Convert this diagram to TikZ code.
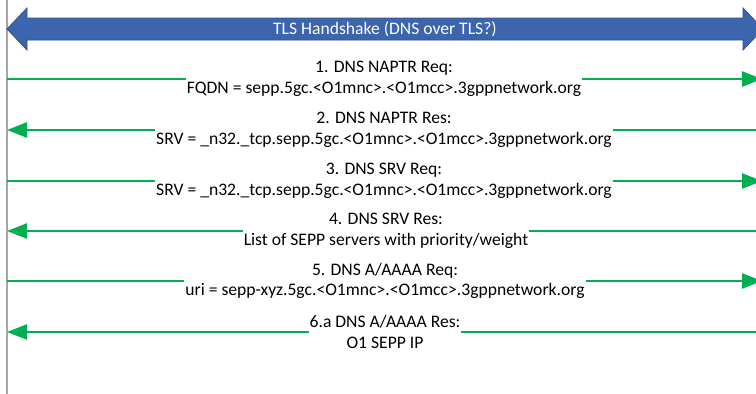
\documentclass[tikz,border=0pt]{standalone}
\usepackage{fontspec}
\setmainfont{Carlito}
\usetikzlibrary{arrows.meta}
\definecolor{tlsblue}{RGB}{61,101,173}
\definecolor{tlsline}{RGB}{47,82,143}
\definecolor{msggreen}{RGB}{0,176,80}
\definecolor{lifegray}{RGB}{165,165,165}

\begin{document}
\begin{tikzpicture}[x=1pt,y=-1pt,>={Triangle[length=20pt,width=15pt]},
  msg/.style={line width=2.6pt,draw=msggreen,fill=msggreen},
  msgtext/.style={fill=white,inner xsep=1pt,inner ysep=0pt,align=center,
    font=\fontsize{17.6}{20.5}\selectfont},
  life/.style={line width=1.8pt,lifegray}]
\useasboundingbox (0,0) rectangle (756,394);
\clip (0,0) rectangle (756,394);

% Lifeline
\coordinate (top) at (7,0);
\coordinate (bot) at (7,394);
\draw[life] (top) -- (bot);

% TLS handshake
\draw[fill=tlsblue,draw=tlsline,line width=0.8pt]
  (7,29) -- (27,8) -- (27,18) -- (743,18) -- (743,8) -- (763,29)
  -- (743,50) -- (743,40) -- (27,40) -- (27,50) -- cycle;
\node[text=white,font=\fontsize{17.6}{20}\selectfont] (tls) at (385,29) {TLS Handshake (DNS over TLS?)};

% Messages
\coordinate (l1) at (7,79);  \coordinate (r1) at (762,79);
\draw[msg,->] (l1) -- (r1);
\node[msgtext] (m1) at (384,79) {1. DNS NAPTR Req:\\FQDN = sepp.5gc.<O1mnc>.<O1mcc>.3gppnetwork.org};

\coordinate (l2) at (7,130); \coordinate (r2) at (762,130);
\draw[msg,<-] (l2) -- (r2);
\node[msgtext] (m2) at (384,130) {2. DNS NAPTR Res:\\SRV = \_n32.\_tcp.sepp.5gc.<O1mnc>.<O1mcc>.3gppnetwork.org};

\coordinate (l3) at (7,181); \coordinate (r3) at (762,181);
\draw[msg,->] (l3) -- (r3);
\node[msgtext] (m3) at (384,181) {3. DNS SRV Req:\\SRV = \_n32.\_tcp.sepp.5gc.<O1mnc>.<O1mcc>.3gppnetwork.org};

\coordinate (l4) at (7,231); \coordinate (r4) at (762,231);
\draw[msg,<-] (l4) -- (r4);
\node[msgtext] (m4) at (386,231) {4. DNS SRV Res:\\List of SEPP servers with priority/weight};

\coordinate (l5) at (7,281); \coordinate (r5) at (762,281);
\draw[msg,->] (l5) -- (r5);
\node[msgtext] (m5) at (385,281) {5. DNS A/AAAA Req:\\uri = sepp-xyz.5gc.<O1mnc>.<O1mcc>.3gppnetwork.org};

\coordinate (l6) at (7,332); \coordinate (r6) at (762,332);
\draw[msg,<-] (l6) -- (r6);
\node[msgtext] (m6) at (385,332) {6.a DNS A/AAAA Res:\\O1 SEPP IP};
\end{tikzpicture}
\end{document}
